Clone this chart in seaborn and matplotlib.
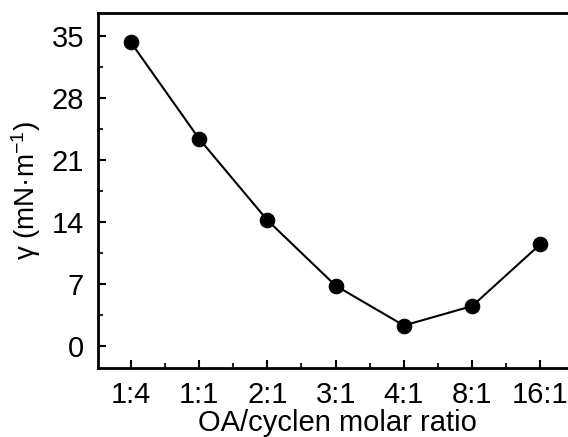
import matplotlib
matplotlib.use("Agg")
import matplotlib.pyplot as plt
import seaborn as sns
import pandas as pd
from matplotlib.ticker import MultipleLocator, FixedLocator

ratios = ["1:4", "1:1", "2:1", "3:1", "4:1", "8:1", "16:1"]
gamma = [34.3, 23.4, 14.2, 6.8, 2.3, 4.5, 11.5]
yticks = [0, 7, 14, 21, 28, 35]

sns.set_style("ticks")
plt.rcParams['font.family'] = ['Liberation Sans', 'DejaVu Sans']
plt.rcParams['mathtext.fontset'] = 'custom'
plt.rcParams['mathtext.rm'] = 'Liberation Sans'
plt.rcParams['mathtext.it'] = 'Liberation Sans:italic'
plt.rcParams['text.color'] = 'black'
plt.rcParams['axes.labelcolor'] = 'black'

df = pd.DataFrame({"ratio": ratios, "gamma": gamma})
df["pos"] = range(len(ratios))

fig = plt.figure(figsize=(5.68, 4.37), dpi=100)
ax = fig.add_axes([98/568, (437-368)/437, 478/568, (368-13)/437])

sns.lineplot(data=df, x="pos", y="gamma", ax=ax, color="black", linewidth=1.5,
             marker="o", markersize=10.5, markeredgecolor="black", markerfacecolor="black")

ax.set_xlim(-0.48, 6.52)
ax.set_ylim(-2.5, 37.6)
ax.xaxis.set_major_locator(FixedLocator(df["pos"].tolist()))
ax.set_xticklabels(ratios)
ax.xaxis.set_minor_locator(MultipleLocator(0.5))
ax.yaxis.set_major_locator(FixedLocator(yticks))
ax.yaxis.set_minor_locator(MultipleLocator(3.5))

for s in ax.spines.values():
    s.set_linewidth(2)
    s.set_color("black")
ax.tick_params(which="major", direction="in", length=6, width=1.5, labelsize=21,
               colors="black", top=False, right=False)
ax.tick_params(axis="x", which="major", pad=9.5)
ax.tick_params(axis="y", which="major", pad=10)
ax.tick_params(which="minor", direction="in", length=3.5, width=1.5, top=False, right=False)

ax.set_xlabel("OA/cyclen molar ratio", fontsize=21, labelpad=0, color="black")
ax.set_ylabel("γ (mN·m$^{-1}$)", fontsize=20, labelpad=6, color="black")

fig.savefig("out.png", dpi=100)
